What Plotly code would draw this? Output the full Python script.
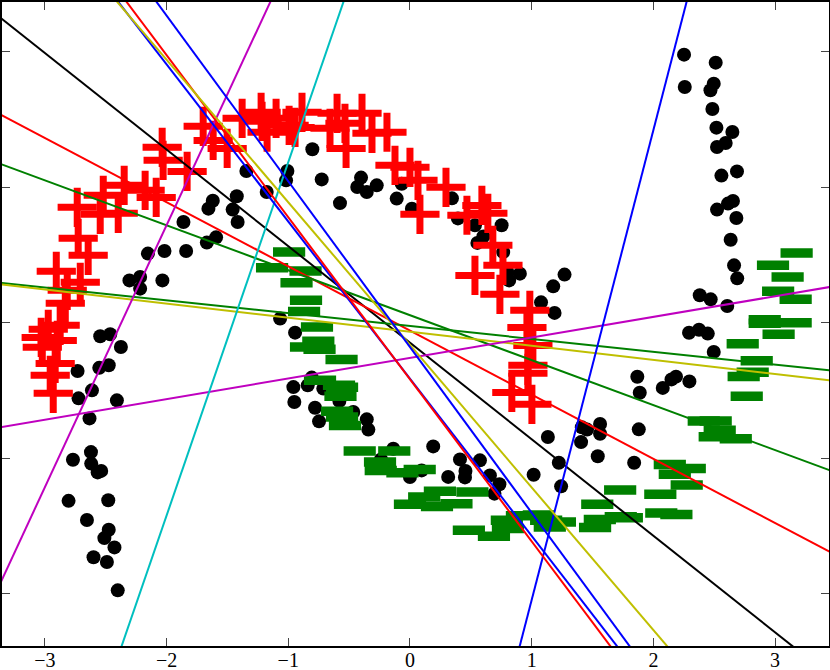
import plotly.graph_objects as go

# class 0 (black dots)
black_x = [-2.731, -2.553, -2.475, -2.545, -2.463, -2.375, -2.613, -2.723, -2.408, -2.633,
           -2.769, -2.621, -2.619, -2.566, -2.537, -2.805, -2.479, -2.654, -2.475, -2.511,
           -2.428, -2.600, -2.490, -2.401,
           -2.305, -2.217, -2.217, -2.034, -2.153, -2.017, -1.839, -1.669, -1.593, -1.861,
           -1.656, -1.620, -1.457, -1.416, -1.423, -1.344, -1.177, -1.007, -1.018, -0.802,
           -0.725, -0.575, -0.402, -0.433, -0.355, -0.273, -0.109, -0.068, 0.016, 0.345,
           0.394, 0.534, 0.554, 0.603, 0.753, 0.766, 0.800, 0.903, 0.815, 1.270,
           1.177, 1.077, 1.188,
           -1.067, -0.944, -0.958, -0.840, -0.807, -0.712, -0.950, -0.780, -0.747, -0.580,
           -0.466, -0.355, -0.342, -0.137, -0.238, 0.000, 0.096, 0.191, 0.314, 0.411,
           0.456, 0.452, 0.575, 0.657, 0.735, 0.694, 1.016, 1.133, 1.223, 1.242,
           1.412, 1.455, 1.562, 1.562, 1.406, 1.543, 1.880, 1.842,
           1.868, 1.888, 2.077, 2.149, 2.186, 2.296, 2.496, 2.293, 2.375, 2.447,
           2.381, 2.471, 2.607, 2.635, 2.663, 2.689, 2.654, 2.613, 2.523, 2.682,
           2.559, 2.687, 2.518, 2.649, 2.594, 2.523, 2.485, 2.496, 2.469, 2.258,
           2.252, 2.512]
black_y = [-0.357, -0.334, -0.315, -0.101, -0.086, -0.180, -0.500, -0.559, -0.574, -0.707,
           -1.012, -0.956, -1.041, -1.106, -1.095, -1.316, -1.312, -1.458, -1.530, -1.591,
           -1.660, -1.733, -1.768, -1.977,
           0.312, 0.337, 0.251, 0.312, 0.510, 0.529, 0.529, 0.591, 0.630, 0.743,
           0.842, 0.900, 0.835, 0.743, 0.933, 1.120, 0.965, 1.120, 1.051, 1.280,
           1.058, 0.883, 1.071, 1.002, 0.965, 1.014, 0.916, 1.025, 0.842, 0.918,
           0.770, 0.719, 0.589, 0.637, 0.719, 0.521, 0.374, 0.362, 0.312, 0.355,
           0.268, 0.150, 0.072,
           0.030, -0.074, -0.476, -0.463, -0.406, -0.487, -0.586, -0.628, -0.729, -0.579,
           -0.660, -0.714, -0.790, -0.931, -1.010, -1.140, -1.091, -0.914, -1.139, -1.010,
           -1.095, -1.143, -1.017, -1.128, -1.194, -1.263, -1.123, -0.845, -1.035, -1.209,
           -0.773, -0.790, -0.749, -0.820, -0.882, -0.987, -0.788, -1.035,
           -0.400, -0.518, -0.482, -0.419, -0.399, -0.434, -0.216, -0.075, -0.053, -0.081,
           0.202, 0.172, 0.123, 0.612, 0.423, 0.327, 0.898, 0.879, 0.835, 0.773,
           1.086, 1.117, 1.440, 1.408, 1.327, 1.297, 1.578, 1.765, 1.716, 1.740,
           1.979, 1.920]

# class 1 (red plus)
red_x = [-2.931, -2.956, -2.915, -3.021, -3.030, -2.874, -2.972, -2.898, -2.832, -2.816,
         -2.906, -2.709, -2.644, -2.726, -2.734, -2.545, -2.397, -2.520, -2.348, -2.085,
         -2.176, -2.036, -2.028, -1.831, -1.699, -1.617, -1.502, -1.379, -1.215, -1.174,
         -1.223, -1.100, -0.993, -0.887, -0.944, -0.657, -0.599, -0.525, -0.534, -0.394,
         -0.312, -0.189, -0.123, 0.000, 0.066, 0.082, 0.296, 0.468, 0.591, 0.640,
         0.681, 0.764, 0.534, 0.739, 0.985, 0.961, 0.969, 0.969, 0.837, 1.002,
         1.010]
red_y = [-0.522, -0.389, -0.301, -0.182, -0.109, -0.020, -0.049, -0.131, 0.143, 0.239,
         0.379, 0.298, 0.497, 0.623, 0.852, 0.800, 0.807, 0.940, 1.014, 0.925,
         0.977, 1.295, 1.199, 1.117, 1.450, 1.346, 1.287, 1.509, 1.487, 1.406,
         1.553, 1.509, 1.457, 1.553, 1.442, 1.435, 1.546, 1.287, 1.472, 1.546,
         1.398, 1.406, 1.162, 1.147, 1.051, 0.800, 0.999, 0.793, 0.866, 0.807,
         0.571, 0.423, 0.349, 0.209, 0.091, -0.035, -0.315, -0.374, -0.515, -0.603,
         -0.168]

# class 2 (green dash)
green_x = [-0.993, -1.133, -0.858, -0.932, -0.854, -0.870, -0.764, -0.753, -0.854, -0.743,
           -0.562, -0.739, -0.583, -0.558, -0.571, -0.599, -0.558, -0.534, -0.413, -0.129,
           -0.246, -0.240, -0.062, 0.080, 0.117, 0.246, 0.000, 0.222, 0.382, 0.513,
           0.484, 0.690, 0.796, 0.805, 0.920, 1.059, 1.119, 1.149, 1.232, 1.539,
           1.521, 1.560, 1.732, 1.782, 1.727, 2.057, 2.065, 2.189, 2.274, 2.176,
           2.135, 2.299, 2.414, 2.512, 2.545, 2.504, 2.677, 2.767, 2.742, 2.816,
           2.849, 2.734, 3.029, 2.915, 2.915, 3.169, 3.025, 3.169, 3.103, 2.983,
           3.177]
green_y = [0.521, 0.405, 0.381, 0.295, 0.165, 0.083, -0.032, -0.138, -0.179, -0.197,
           -0.273, -0.426, -0.463, -0.478, -0.544, -0.655, -0.697, -0.759, -0.948, -0.948,
           -1.030, -1.091, -1.108, -1.084, -1.288, -1.246, -1.342, -1.357, -1.337, -1.251,
           -1.534, -1.578, -1.460, -1.521, -1.427, -1.420, -1.460, -1.510, -1.473, -1.342,
           -1.512, -1.453, -1.434, -1.440, -1.236, -1.268, -1.406, -1.417, -1.199, -1.120,
           -1.047, -1.078, -0.727, -0.727, -0.795, -0.843, -0.857, -0.544, -0.397, -0.367,
           -0.282, -0.155, -0.086, 0.022, -0.005, 0.000, 0.231, 0.172, 0.337, 0.423,
           0.514]

# decision boundaries y = slope * x + intercept
line_slope = [-0.713, -0.474, -0.332, -0.095, -0.104, 0.152, 1.935, 2.610, 3.470,
              -1.161, -1.197, -1.053, -1.224]
line_intercept = [-0.148, -0.058, 0.055, -0.025, -0.067, -0.261, 4.589, 3.795, -5.518,
                  -0.414, -0.418, -0.164, -0.180]
line_color = ['#000000', '#ff0000', '#008000', '#008000', '#bfbf00', '#bf00bf', '#bf00bf',
              '#00bfbf', '#0000ff', '#0000ff', '#ff0000', '#bfbf00', '#0000ff']

x_range = [-3.352, 3.443]
y_range = [-2.388, 2.368]

fig = go.Figure()

fig.add_trace(go.Scatter(x=black_x, y=black_y, mode='markers',
                         marker=dict(symbol='circle', size=14, color='black',
                                     line=dict(width=0))))
fig.add_trace(go.Scatter(x=red_x, y=red_y, mode='markers',
                         marker=dict(symbol='cross-thin', size=28, color='#ff0000',
                                     line=dict(width=7, color='#ff0000'))))
fig.add_trace(go.Scatter(x=green_x, y=green_y, mode='markers',
                         marker=dict(symbol='line-ew', size=23, color='#008000',
                                     line=dict(width=9.5, color='#008000'))))

xs = [-3.6, 3.7]
for m, b, c in zip(line_slope, line_intercept, line_color):
    fig.add_trace(go.Scatter(x=xs, y=[m * x + b for x in xs], mode='lines',
                             line=dict(color=c, width=2)))

fig.update_layout(
    width=830, height=670,
    margin=dict(l=2, r=1, t=2, b=24),
    paper_bgcolor='white', plot_bgcolor='white',
    showlegend=False,
    font=dict(family='Liberation Serif', size=20, color='black'),
)
fig.update_xaxes(range=x_range, showgrid=False, zeroline=False, automargin=False,
                 showline=True, linewidth=2, linecolor='black', mirror='ticks',
                 ticks='inside', ticklen=8, tickwidth=1, tickcolor='#444',
                 ticklabelstandoff=-5,
                 tickmode='array', tickvals=[-3, -2, -1, 0, 1, 2, 3])
fig.update_yaxes(range=y_range, showgrid=False, zeroline=False, automargin=False,
                 showline=True, linewidth=2, linecolor='black', mirror='ticks',
                 ticks='inside', ticklen=8, tickwidth=1, tickcolor='#444',
                 tickmode='array', tickvals=[-2, -1, 0, 1, 2], showticklabels=False)

# page body has a default 8px margin; drop it so the figure sits at the window origin
fig.write_html("out.html", config={'displayModeBar': False},
               post_script="document.body.style.margin='0';")
